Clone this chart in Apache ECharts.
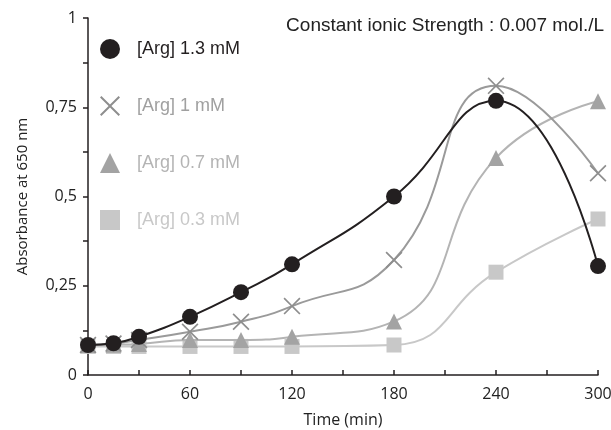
<!DOCTYPE html>
<html>
<head>
<meta charset="utf-8">
<script src="https://cdn.jsdelivr.net/npm/echarts@6/dist/echarts.min.js"></script>
<style>
  html, body { margin: 0; padding: 0; background: #fff; }
  #chart { width: 611px; height: 430px; }
</style>
</head>
<body>
<div id="chart"></div>
<script>
// time points (min)
var times = [0, 15, 30, 60, 90, 120, 180, 240, 300];
// absorbance at 650 nm, one array per arginine concentration
var arg13 = [0.084, 0.089, 0.107, 0.163, 0.232, 0.31, 0.50, 0.768, 0.305];
var arg10 = [0.084, 0.088, 0.098, 0.121, 0.149, 0.193, 0.322, 0.81, 0.565];
var arg07 = [0.084, 0.085, 0.087, 0.098, 0.098, 0.107, 0.15, 0.608, 0.767];
var arg03 = [0.08, 0.08, 0.08, 0.08, 0.08, 0.08, 0.084, 0.288, 0.437];
var seriesNames = ['[Arg] 1.3 mM', '[Arg] 1 mM', '[Arg] 0.7 mM', '[Arg] 0.3 mM'];
var yTicks = [0, 0.25, 0.5, 0.75, 1];

var crossPath = 'path://M0,7L7,0L50,43L93,0L100,7L57,50L100,93L93,100L50,57L7,100L0,93L43,50Z';

function pairs(ys) {
    return times.map(function (t, i) { return [t, ys[i]]; });
}

var myChart = echarts.init(document.getElementById('chart'));
var option = {
    backgroundColor: '#ffffff',
    animation: false,
    title: {
        text: 'Constant ionic Strength : 0.007 mol./L',
        right: 2,
        top: 11,
        textStyle: {
            fontFamily: 'Liberation Sans',
            fontSize: 19,
            fontWeight: 'normal',
            color: '#222'
        }
    },
    legend: {
        orient: 'vertical',
        left: 95,
        top: 34,
        itemWidth: 20,
        itemHeight: 20,
        itemGap: 37,
        textStyle: {
            fontFamily: 'Liberation Sans',
            fontSize: 18,
            padding: [0, 0, 0, 12]
        },
        data: [
            {name: seriesNames[0], icon: 'circle', textStyle: {color: '#231f20'}},
            {name: seriesNames[1], icon: crossPath, textStyle: {color: '#a0a0a0'}},
            {name: seriesNames[2], icon: 'triangle', textStyle: {color: '#b4b4b4'}},
            {name: seriesNames[3], icon: 'rect', textStyle: {color: '#c8c8c8'}}
        ]
    },
    grid: {
        left: 88,
        right: 13,
        top: 18,
        bottom: 55,
        outerBoundsMode: 'none'
    },
    xAxis: {
        type: 'value',
        min: 0,
        max: 300,
        interval: 30,
        name: 'Time (min)',
        nameLocation: 'middle',
        nameGap: 37,
        nameTextStyle: {fontFamily: 'Open Sans', fontSize: 16, color: '#222'},
        axisLine: {lineStyle: {color: '#231f20', width: 1.5}},
        axisTick: {inside: true, length: 5, lineStyle: {color: '#231f20', width: 1.5}},
        axisLabel: {
            fontFamily: 'Open Sans',
            fontSize: 16,
            color: '#222',
            margin: 11,
            formatter: function (v) { return v % 60 === 0 ? String(v) : ''; }
        },
        splitLine: {show: false}
    },
    yAxis: {
        type: 'value',
        min: 0,
        max: 1,
        interval: 0.25,
        name: 'Absorbance at 650 nm',
        nameLocation: 'middle',
        nameGap: 58,
        nameTextStyle: {fontFamily: 'Open Sans', fontSize: 15, color: '#222'},
        axisLine: {show: true, lineStyle: {color: '#231f20', width: 1.5}},
        axisTick: {show: true, length: 5, lineStyle: {color: '#231f20', width: 1.5}},
        minorTick: {show: true, splitNumber: 2, length: 5, lineStyle: {color: '#231f20', width: 1.5}},
        axisLabel: {
            fontFamily: 'Open Sans',
            fontSize: 16,
            color: '#222',
            margin: 11,
            formatter: function (v) {
                return yTicks.indexOf(v) >= 0 ? String(v).replace('.', ',') : '';
            }
        },
        splitLine: {show: false}
    },
    series: [
        {
            name: seriesNames[3],
            type: 'line',
            smooth: 0.5,
            symbol: 'rect',
            symbolSize: 15,
            z: 2,
            itemStyle: {color: '#c8c8c8'},
            lineStyle: {color: '#c8c8c8', width: 2},
            data: pairs(arg03)
        },
        {
            name: seriesNames[2],
            type: 'line',
            smooth: 0.5,
            symbol: 'triangle',
            symbolSize: 16,
            z: 3,
            itemStyle: {color: '#a3a3a3'},
            lineStyle: {color: '#b4b4b4', width: 2},
            data: pairs(arg07)
        },
        {
            name: seriesNames[1],
            type: 'line',
            smooth: 0.5,
            symbol: crossPath,
            symbolSize: 17,
            z: 4,
            itemStyle: {color: '#8e8e8e'},
            lineStyle: {color: '#9a9a9a', width: 2},
            data: pairs(arg10)
        },
        {
            name: seriesNames[0],
            type: 'line',
            smooth: 0.5,
            symbol: 'circle',
            symbolSize: 16,
            z: 5,
            itemStyle: {color: '#231f20'},
            lineStyle: {color: '#231f20', width: 2},
            data: pairs(arg13)
        }
    ]
};
myChart.setOption(option);
</script>
</body>
</html>
